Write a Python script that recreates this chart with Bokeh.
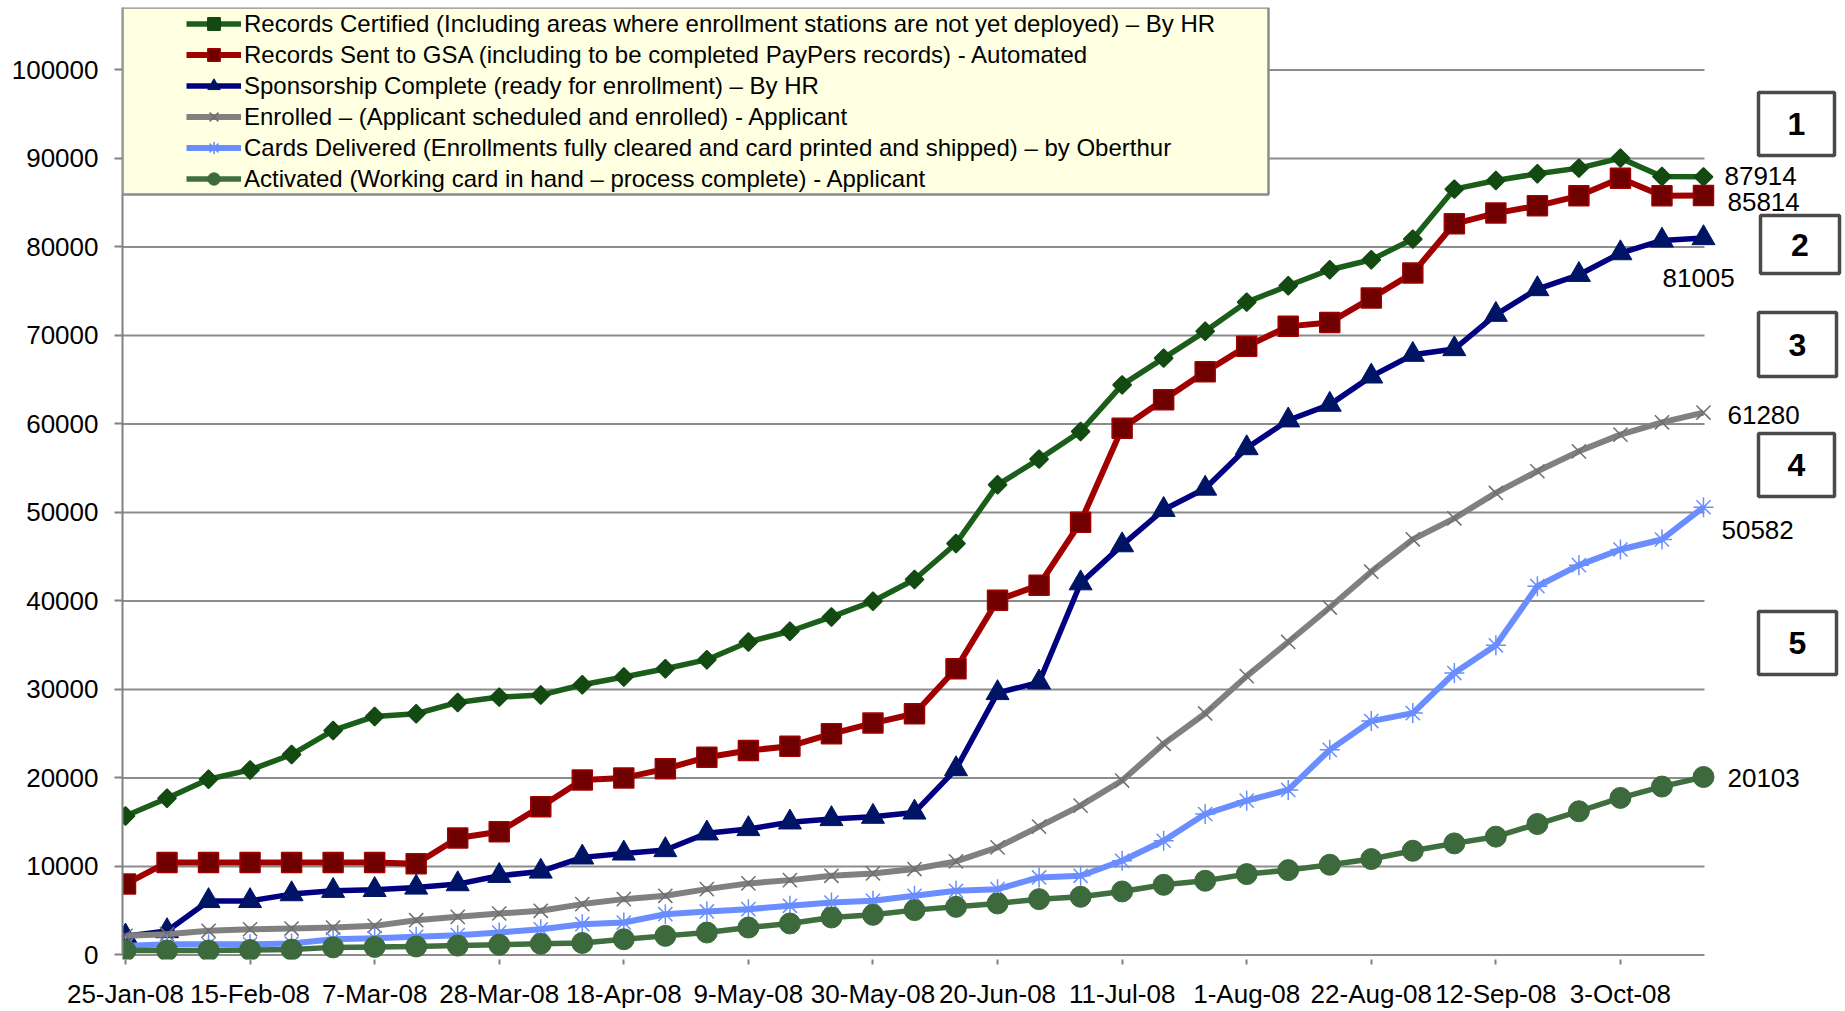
import math
from bokeh.plotting import figure
from bokeh.models import Range1d, FixedTicker, Legend, LegendItem, Label, BoxAnnotation
from bokeh.embed import file_html
from bokeh.resources import INLINE

# ---------------- data ----------------
tick_labels = ["25-Jan-08", "15-Feb-08", "7-Mar-08", "28-Mar-08", "18-Apr-08", "9-May-08",
               "30-May-08", "20-Jun-08", "11-Jul-08", "1-Aug-08", "22-Aug-08", "12-Sep-08", "3-Oct-08"]
tick_weeks = [0, 3, 6, 9, 12, 15, 18, 21, 24, 27, 30, 33, 36]
weeks = list(range(39))

certified = [15700, 17700, 19850, 20900, 22640, 25360, 26940, 27250, 28530, 29130, 29360, 30530, 31400,
             32340, 33360, 35360, 36570, 38190, 39960, 42420, 46490, 53120, 56020, 59150, 64410, 67430,
             70460, 73760, 75610, 77420, 78550, 80880, 86530, 87500, 88260, 88900, 90030, 87960, 87914]
sent_gsa = [8000, 10450, 10450, 10450, 10450, 10450, 10450, 10300, 13200, 13920, 16750, 19770, 20000,
            21020, 22340, 23090, 23580, 24980, 26190, 27250, 32340, 40080, 41780, 48900, 59520, 62720,
            65880, 68760, 71020, 71470, 74220, 77040, 82610, 83820, 84640, 85770, 87770, 85770, 85814]
sponsorship = [2100, 2700, 6100, 6100, 6870, 7250, 7350, 7620, 8000, 8940, 9430, 11020, 11470,
               11850, 13740, 14230, 14980, 15360, 15620, 16100, 21000, 29600, 30800, 42000, 46300, 50300,
               52700, 57270, 60410, 62180, 65370, 67820, 68460, 72340, 75240, 76850, 79300, 80730, 81005]
enrolled = [2150, 2340, 2720, 2900, 2980, 3090, 3280, 3920, 4300, 4680, 4980, 5740, 6300,
            6680, 7430, 8080, 8450, 8940, 9210, 9700, 10570, 12150, 14490, 16870, 19700, 23850,
            27280, 31500, 35360, 39250, 43300, 46960, 49330, 52200, 54650, 56900, 58790, 60180, 61280]
delivered = [1020, 1200, 1200, 1200, 1280, 1770, 1890, 2040, 2230, 2530, 2900, 3470, 3660,
             4600, 4910, 5170, 5550, 5920, 6110, 6680, 7250, 7430, 8750, 8940, 10640, 12900,
             15920, 17430, 18640, 23170, 26420, 27320, 31850, 34980, 41660, 44040, 45810, 46940, 50582]
activated = [500, 500, 500, 550, 600, 850, 900, 950, 1050, 1150, 1250, 1350, 1770,
             2150, 2530, 3090, 3550, 4230, 4530, 5060, 5430, 5810, 6300, 6570, 7170, 7920,
             8380, 9130, 9580, 10190, 10830, 11770, 12600, 13360, 14790, 16230, 17740, 19020, 20103]

series_labels = [
    "Records Certified (Including areas where enrollment stations are not yet deployed) \u2013 By HR",
    "Records Sent to GSA (including to be completed PayPers records) - Automated",
    "Sponsorship Complete (ready for enrollment) \u2013 By HR",
    "Enrolled \u2013 (Applicant scheduled and enrolled) - Applicant",
    "Cards Delivered (Enrollments fully cleared and card printed and shipped) \u2013 by Oberthur",
    "Activated (Working card in hand \u2013 process complete) - Applicant",
]
y_ticks = [0, 10000, 20000, 30000, 40000, 50000, 60000, 70000, 80000, 90000, 100000]
box_texts = ["1", "2", "3", "4", "5"]

# ---------------- layout (pixels) ----------------
W, H = 1845, 1011
FRAME_L, FRAME_T, FRAME_B = 122, 7, 959
X0_PX, PXW = 125.0, 41.526        # pixel of week 0, pixels per week
Y0_PX, PXV = 954.4, 0.00885       # pixel of value 0, pixels per unit


def px_x(px):
    return (px - X0_PX) / PXW


def px_y(py):
    return (Y0_PX - py) / PXV


FONT = "Liberation Sans"

p = figure(width=W, height=H, output_backend="svg", toolbar_location=None,
           x_range=Range1d(px_x(FRAME_L), px_x(W)),
           y_range=Range1d(px_y(FRAME_B), px_y(FRAME_T)),
           min_border_left=FRAME_L, min_border_right=0,
           min_border_top=FRAME_T, min_border_bottom=H - FRAME_B)
p.outline_line_color = None
p.background_fill_color = "white"
p.border_fill_color = "white"
p.xgrid.visible = False
p.ygrid.visible = False

# gridlines (incl. zero line) ending at the last category
grid_right = px_x(1704)
p.segment(x0=[px_x(FRAME_L)] * len(y_ticks), y0=y_ticks, x1=[grid_right] * len(y_ticks), y1=y_ticks,
          line_color="#8c8c8c", line_width=2)

# axes
GRAY = "#808080"
ya = p.yaxis[0]
ya.ticker = FixedTicker(ticks=y_ticks)
ya.major_label_overrides = {t: str(t) for t in y_ticks}
ya.axis_line_color = GRAY
ya.axis_line_width = 2
ya.bounds = (0, px_y(FRAME_T))
ya.major_tick_line_color = GRAY
ya.major_tick_line_width = 2
ya.major_tick_out = 8
ya.major_tick_in = 0
ya.minor_tick_line_color = None
ya.major_label_standoff = 16
ya.major_label_text_font = FONT
ya.major_label_text_font_size = "26px"
ya.major_label_text_color = "black"

xa = p.xaxis[0]
xa.ticker = FixedTicker(ticks=tick_weeks)
xa.major_label_overrides = {w: d for w, d in zip(tick_weeks, tick_labels)}
xa.axis_line_color = None
xa.major_tick_line_color = GRAY
xa.major_tick_line_width = 2
xa.major_tick_out = 5
xa.major_tick_in = 0
xa.minor_tick_line_color = None
xa.major_label_standoff = 14
xa.major_label_text_font = FONT
xa.major_label_text_font_size = "26px"
xa.major_label_text_color = "black"

# series
styles = [
    dict(data=certified, line="#1a5e1a", lw=5.5, marker="square", size=13, angle=math.pi / 4,
         fill="#124a12", mline="#124a12", mlw=1.5),
    dict(data=sent_gsa, line="#a00000", lw=6, marker="square", size=20, angle=0,
         fill="#700000", mline="#a00000", mlw=1.5),
    dict(data=sponsorship, line="#000080", lw=5.5, marker="triangle", size=23, angle=0,
         fill="#001466", mline="#001466", mlw=1),
    dict(data=enrolled, line="#808080", lw=6, marker="x", size=20, angle=0,
         fill=None, mline="#6e6e6e", mlw=1.5),
    dict(data=delivered, line="#6a8dff", lw=6, marker="asterisk", size=20, angle=0,
         fill=None, mline="#6a8dff", mlw=1.5),
    dict(data=activated, line="#3f6f3f", lw=5.5, marker="circle", size=21, angle=0,
         fill="#3c6a3c", mline="#3c6a3c", mlw=1),
]

items = []
for st, lab in zip(styles, series_labels):
    lr = p.line(weeks, st["data"], line_color=st["line"], line_width=st["lw"], line_join="round")
    sr = p.scatter(weeks, st["data"], marker=st["marker"], size=st["size"], angle=st["angle"],
                   fill_color=st["fill"], line_color=st["mline"], line_width=st["mlw"])
    items.append(LegendItem(label=lab, renderers=[lr, sr]))

# legend box
p.add_layout(BoxAnnotation(left=px_x(FRAME_L), right=px_x(1268), top=px_y(FRAME_T), bottom=px_y(194),
                           fill_color="#ffffe1", fill_alpha=1, line_color="#8c8c8c", line_alpha=1,
                           line_width=2.5))

legend = Legend(items=items, location=(186 - FRAME_L, FRAME_B - 194), padding=0, margin=0, spacing=0,
                glyph_width=55, glyph_height=31, label_height=31, label_standoff=3,
                label_text_font=FONT, label_text_font_size="24px", label_text_color="black",
                background_fill_alpha=0, border_line_color=None)
p.add_layout(legend)

# end value labels
all_series = [certified, sent_gsa, sponsorship, enrolled, delivered, activated]
offsets = [(21, 1), (24, -7), (-41, -40), (24, -2), (18, -23), (24, -1)]
for s, (dx, dy) in zip(all_series, offsets):
    p.add_layout(Label(x=weeks[-1], y=s[-1], text=str(s[-1]), x_offset=dx, y_offset=dy,
                       text_font=FONT, text_font_size="26px", text_baseline="middle",
                       text_align="left", text_color="black"))

# numbered boxes
boxes_px = [(1758, 1834, 92, 155), (1760, 1839, 215, 273), (1758, 1836, 312, 376),
            (1758, 1834, 433, 496), (1758, 1836, 611, 674)]
for t, (l, r, tp, b) in zip(box_texts, boxes_px):
    p.add_layout(BoxAnnotation(left=px_x(l), right=px_x(r), top=px_y(tp), bottom=px_y(b),
                               fill_color="white", fill_alpha=1, line_color="#4a4a4a", line_alpha=1,
                               line_width=3.5))
    p.add_layout(Label(x=px_x((l + r) / 2), y=px_y((tp + b) / 2), text=t, text_font=FONT,
                       text_font_size="32px", text_font_style="bold", text_align="center",
                       text_baseline="middle", text_color="black"))

open("out.html", "w").write(file_html(p, INLINE))
